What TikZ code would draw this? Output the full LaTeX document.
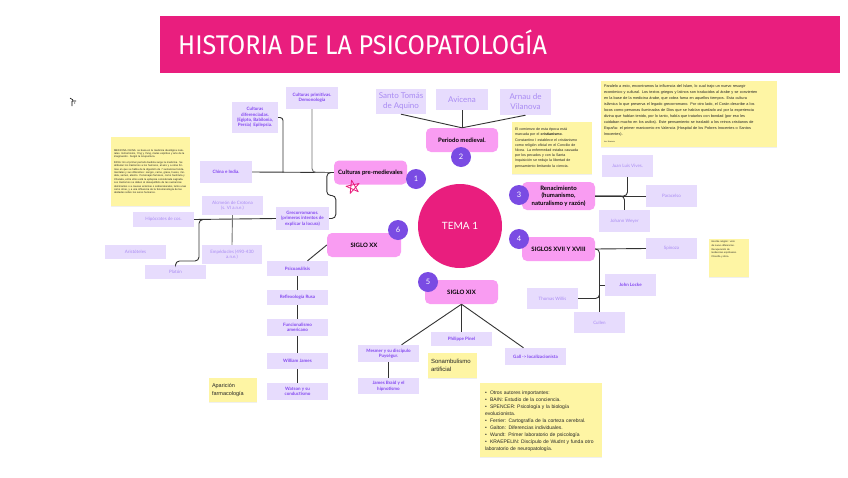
\documentclass[tikz,border=0pt]{standalone}
\usepackage{fontspec}
\setmainfont{Lato}
\newfontfamily\titlefont[FakeStretch=0.93]{Fira Sans}
\newfontfamily\notefont{Liberation Sans}
\usetikzlibrary{calc,backgrounds,shadows}
\definecolor{hpmagenta}{HTML}{E91E7E}
\definecolor{hppurple}{HTML}{7A4BE3}
\definecolor{hppink}{HTML}{F99CF2}
\definecolor{hplav}{HTML}{E7DCFD}
\definecolor{hpviolet}{HTML}{8347F0}
\definecolor{hpsoft}{HTML}{A98BF3}
\definecolor{hpyellow}{HTML}{FEF5A4}
\definecolor{hpink}{HTML}{333333}
\tikzset{
  bx/.style={align=center, inner sep=1pt, font=\bfseries\fontsize{4.5}{5.4}\selectfont},
  sub/.style={bx, fill=hplav, text=hpviolet, minimum width=61pt, minimum height=15pt},
  subl/.style={sub, font=\fontsize{4.5}{5.6}\selectfont, text=hpsoft},
  big/.style={sub, minimum width=51pt, font=\fontsize{8}{10}\selectfont, text=hpsoft},
  tema/.style={bx, fill=hppink, rounded corners=5pt, text=black, minimum width=73pt, minimum height=24pt, font=\bfseries\fontsize{6}{7.4}\selectfont},
  num/.style={circle, fill=hppurple, text=white, minimum size=20pt, inner sep=0pt, font=\fontsize{7.5}{8}\selectfont},
  note/.style={fill=hpyellow, align=left, inner xsep=3pt, inner ysep=2pt, text=black!85,
    drop shadow={shadow xshift=0pt, shadow yshift=-1pt, opacity=0.12}},
  link/.style={draw=hpink, line width=0.9pt},
  starpen/.style={draw=hpmagenta, line width=0.8pt, line join=round},
}
\newcommand\bul[1]{\par\hangindent=5pt\hangafter=1\noindent\makebox[5pt][l]{\textbullet}#1}

\begin{document}
\begin{tikzpicture}[x=1pt, y=-1pt]
  \useasboundingbox[fill=white] (0,0) rectangle (848,477);
  % banner
  \node[fill=hpmagenta, minimum width=680pt, minimum height=57pt, anchor=north west, inner sep=0pt] (banner) at (160,16) {};
  \node[anchor=base west, text=white, inner sep=0pt, font=\titlefont\fontsize{27}{30}\selectfont] (title) at (178,54) {HISTORIA DE LA PSICOPATOLOGÍA};
  \draw[line width=0.6pt] (70,98) -- (73,100) (72,101) -- (76,101) (72,101) -- (72,106) (74,103) -- (75,103);

  % centre and numbered topics
  \node[circle, fill=hpmagenta, minimum size=84pt, text=white, font=\fontsize{10}{12}\selectfont] (tema) at (460,226) {TEMA 1};
  \node[tema] (pre) at (370.5,172.5) {Culturas pre-medievales};
  \node[tema, minimum width=72pt] (med) at (462,140) {Periodo medieval.};
  \node[tema, minimum height=28pt] (ren) at (558.5,196) {Renacimiento\\(humanismo,\\naturalismo y razón)};
  \node[tema] (s17) at (558.5,249) {SIGLOS XVII Y XVIII};
  \node[tema] (s19) at (461.5,292) {SIGLO XIX};
  \node[tema, minimum width=74pt] (s20) at (364,245) {SIGLO XX};
  \node[num] (n1) at (416,179) {1};
  \node[num] (n2) at (461,157) {2};
  \node[num] (n3) at (519,195) {3};
  \node[num] (n4) at (519,239) {4};
  \node[num] (n5) at (428,282) {5};
  \node[num] (n6) at (398,230) {6};
  \begin{scope}[on background layer]
    \foreach \n in {n1,n2,n3,n4,n5,n6} \draw[link] (tema) -- (\n);
  \end{scope}
  \draw[starpen, shift={(353,187)}, rotate=12] (270:7) -- (54:7) -- (198:7) -- (342:7) -- (126:7) -- cycle;

  % culturas pre-medievales
  \node[sub, minimum width=52pt, minimum height=22pt] (prim) at (312,98) {Culturas primitivas.\\Demonología};
  \node[sub, minimum width=46pt, minimum height=31pt] (dif) at (255,117.5) {Culturas\\diferenciadas.\\(Egipto, Babilonia,\\Persia) \ Epilepsia.};
  \node[sub, minimum width=52pt, minimum height=22pt] (chi) at (226,172) {China e India.};
  \node[sub, minimum width=53pt, minimum height=23pt] (gre) at (302.5,218.5) {Grecorromanos.\\(primeros intentos de\\explicar la locura)};
  \node[subl, minimum height=19pt] (alc) at (232.5,205.5) {Alcmeón de Crotona\\(s. VI a.n.e.)};
  \node[subl] (hip) at (163.5,219.5) {Hipócrates de cos.};
  \node[subl, minimum height=14pt] (ari) at (135.5,252) {Aristóteles};
  \node[subl, minimum height=14pt] (pla) at (175.5,272) {Platón};
  \node[subl, minimum width=60pt, minimum height=19pt] (emp) at (232,254.5) {Empédocles (490-430\\a.n.e.)};
  \coordinate (jdif) at (283,172.5);
  \coordinate (jpla) at (210,219.5);
  \draw[link] (chi.east) -- (pre.west);
  \draw[link, draw=black!55, rounded corners=4pt] (prim.south) |- (pre.west);
  \draw[link, rounded corners=3pt] (dif.east) -| (jdif);
  \draw[link, rounded corners=4pt] (pre.west) -- ++(-7,0) -- ++(0,23) -- ++(9,0) |- (gre.east);
  \draw[link] (gre.west) -- (hip.east);
  \draw[link, draw=black!55] (alc.south) -- (emp.north);
  \draw[link, rounded corners=4pt] (jpla) -| (199,261) -| (pla.north);

  % periodo medieval
  \node[big, minimum width=50pt, minimum height=25pt] (sto) at (401,101.5) {Santo Tomás\\de Aquino};
  \node[big, minimum width=52pt, minimum height=21pt] (avi) at (462,99.5) {Avicena};
  \node[big, minimum height=26pt] (arn) at (525.5,102) {Arnau de\\Vilanova};
  \foreach \b in {sto,avi,arn} \draw[link] (\b.south) -- (med.north);

  % renacimiento
  \node[subl, minimum width=51pt, minimum height=22pt] (viv) at (627.5,166) {Juan Luis Vives.};
  \node[subl, minimum width=51pt, minimum height=22pt] (par) at (671.5,196) {Paracelso};
  \node[subl, minimum width=51pt, minimum height=22pt] (wey) at (624.5,221) {Johann Weyer};
  \draw[link] (ren.east) -- (par.west);
  \draw[link, rounded corners=4pt] (viv.south) |- (ren.east);
  \draw[link, rounded corners=4pt] (wey.north) |- (ren.east);

  % siglos XVII y XVIII
  \node[subl, minimum width=51pt, minimum height=21pt] (spi) at (671.5,248.5) {Spinoza};
  \node[sub, minimum width=51pt, minimum height=22pt] (loc) at (630.5,285) {John Locke};
  \node[subl, minimum width=51pt, minimum height=21pt] (wls) at (552.5,298.5) {Thomas Willis};
  \node[subl, minimum width=51pt, minimum height=21pt] (cul) at (599.5,322.5) {Cullen};
  \draw[link] (s17.east) -- (spi.west);
  \draw[link, rounded corners=4pt] (s17.east) -| (cul.north);
  \draw[link] (loc.west) -- (loc.west -| cul.north);
  \draw[link, rounded corners=4pt] (wls.east) -| (loc.west -| cul.north);

  % siglo XIX
  \node[sub, minimum height=14pt] (pin) at (461.5,339) {Philippe Pinel};
  \node[sub, minimum height=17pt] (mes) at (388.5,353.5) {Mesmer y su discípulo\\Puységur.};
  \node[sub, minimum height=16pt] (bra) at (388.5,386) {James Braid y el\\hipnotismo};
  \node[sub, minimum height=17pt] (gal) at (535.5,356.5) {Gall -> localizacionista};
  \draw[link] (s19.south) -- ($(mes.north)+(13,0)$);
  \draw[link] (s19.south) -- (pin.north);
  \draw[link] (s19.south) -- ($(gal.north)+(-12,0)$);
  \draw[link] (mes.south) -- (bra.north);

  % siglo XX
  \node[sub] (psi) at (297.5,268.5) {Psicoanálisis};
  \node[sub] (ref) at (297.5,297.5) {Reflexología Rusa};
  \node[sub, minimum height=17pt] (fun) at (297.5,327.5) {Funcionalismo\\americano};
  \node[sub, minimum height=16pt] (wil) at (297.5,361) {William James};
  \node[sub, minimum height=17pt] (wat) at (297.5,391.5) {Watson y su\\conductismo};
  \draw[link] (s20.west) -- ($(psi.north)+(10,0)$);
  \foreach \a/\b in {psi/ref,ref/fun,fun/wil,wil/wat} \draw[link] (\a.south) -- (\b.north);

  % notes
  \node[note, text width=73pt, minimum height=69pt, font=\notefont\fontsize{2.6}{3.4}\selectfont] (nchi) at (150.5,171.5) {MEDICINA CHINA: se basa en la medicina ideológica naturales. Extremismo, Ying y Yang, males espíritus y arte de la imaginación. Surgió la Acupuntura.\par\vspace{2pt}INDIA: En el primer período budista surge la medicina. Se atribuían los trastornos a los humores, al aire y a otras formas en que se habla de la digestión de 7 sustancias fundamentales y sus diferentes: sangre, carne, grasa, hueso, médula, semen, aliento. Personajes famosos, como Sushruta y Charaka, entre ellos está la epilepsia considerada sagrada. Los trastornos se deben al desequilibrio de las sustancias dominantes o a causas externas o sobrenaturales, tanto unas como otras, y a una influencia de la fenomenología de las deidades sobre los seres humanos.};
  \node[note, text width=74pt, minimum height=52pt, font=\notefont\fontsize{3.6}{5.2}\selectfont] (nmed) at (552,148) {El comienzo de esta época está\\marcada por el \textbf{cristianismo}.\\Constantino I establece el cristianismo\\como religión oficial en el Concilio de\\Nicea. La enfermedad estaba causada\\por los pecados y con la Santa\\Inquisición se redujo la libertad de\\pensamiento limitando la ciencia.};
  \node[note, text width=170pt, minimum height=66pt, font=\notefont\fontsize{3.8}{6}\selectfont] (nisl) at (689,114) {Paralelo a esto, encontramos la influencia del Islam, lo cual trajo un nuevo resurgir\\económico y cultural. Los textos griegos y latinos son traducidos al árabe y se convierten\\en la base de la medicina árabe, que cobra fama en aquellos tiempos. Esta cultura\\islámica lo que preserva el legado grecorromano. Por otro lado, el Corán describe a los\\locos como personas iluminadas de Dios que se habían quedado así por la experiencia\\divina que habían tenido, por lo tanto, había que tratarlos con bondad (por eso les\\cuidaban mucho en los asilos). Este pensamiento se trasladó a los reinos cristianos de\\España: el primer manicomio en Valencia (Hospital de los Pobres Inocentes o Santos\\Inocentes).\\[1pt]{\fontsize{2}{3}\selectfont Isa Navarro}};
  \node[note, text width=34pt, minimum height=38pt, font=\notefont\fontsize{2.4}{3.6}\selectfont] (nspi) at (728.5,258) {Escribe religión: visto\\de nuevo diferencias.\\Recuperación de\\tendencias espirituales.\\Filosofía y ética.\\\rule{0pt}{16pt}};
  \node[note, text width=43pt, minimum height=25pt, font=\notefont\fontsize{6}{8}\selectfont] (nson) at (452.5,365.5) {Sonambulismo\\artificial};
  \node[note, text width=42pt, minimum height=24pt, font=\notefont\fontsize{5.5}{8}\selectfont] (nfar) at (233,390) {Aparición\\farmacología};
  \node[note, text width=112pt, minimum height=74pt, inner xsep=5pt, font=\notefont\fontsize{5}{7}\selectfont] (naut) at (541,420) {%
    \bul{Otros autores importantes:}
    \bul{BAIN: Estudio de la conciencia.}
    \bul{SPENCER: Psicología y la biología\\evolucionista.}
    \bul{Ferrier: Cartografía de la corteza cerebral.}
    \bul{Galton: Diferencias individuales.}
    \bul{Wundt: Primer laboratorio de psicología}
    \bul{KRAEPELIN: Discípulo de Wudnt y funda otro\\laboratorio de neuropatología.}};
\end{tikzpicture}
\end{document}
